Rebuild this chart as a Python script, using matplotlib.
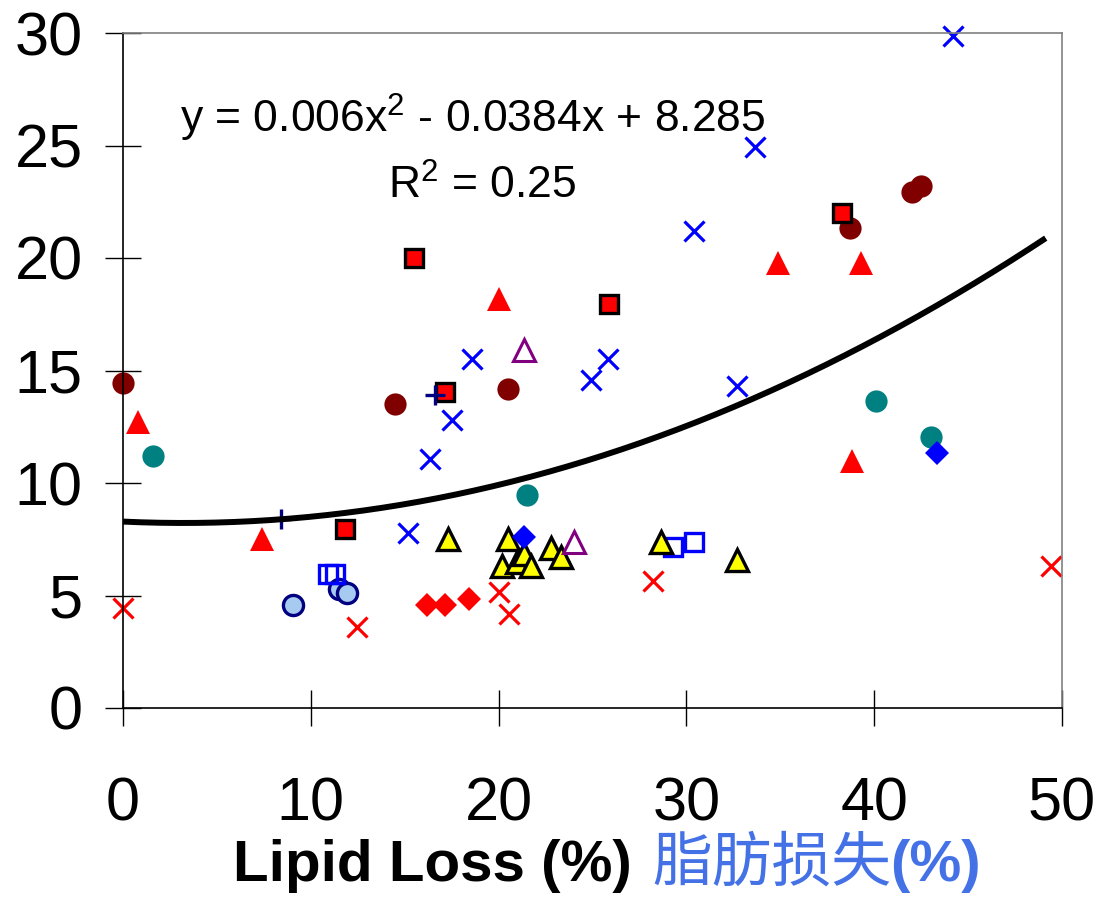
import numpy as np
import matplotlib
matplotlib.use('Agg')
import matplotlib.pyplot as plt

plt.rcParams['font.family'] = ['Liberation Sans', 'DejaVu Sans']
plt.rcParams['mathtext.default'] = 'regular'

# series: (lipid loss %, y value)
maroon_x = [0.0, 14.5, 20.5, 38.7, 42.0, 42.5]
maroon_y = [14.45, 13.5, 14.2, 21.35, 22.95, 23.2]

red_tri_x = [0.8, 7.4, 20.0, 34.9, 39.3, 38.8]
red_tri_y = [12.7, 7.5, 18.2, 19.8, 19.8, 11.0]

teal_x = [1.6, 21.5, 40.1, 43.0]
teal_y = [11.2, 9.45, 13.65, 12.05]

red_sq_x = [11.8, 15.5, 17.15, 25.9, 38.3]
red_sq_y = [7.95, 20.0, 14.05, 17.95, 22.0]

blue_x_x = [44.2, 33.65, 30.4, 18.6, 25.8, 24.9, 32.7, 17.5, 16.35, 15.2]
blue_x_y = [29.85, 24.95, 21.2, 15.5, 15.5, 14.6, 14.3, 12.8, 11.05, 7.8]

red_x_x = [0.0, 12.45, 20.0, 20.55, 28.2, 49.4]
red_x_y = [4.45, 3.6, 5.15, 4.2, 5.65, 6.3]

red_dia_x = [16.2, 17.15, 18.4]
red_dia_y = [4.6, 4.6, 4.85]

lb_circ_x = [9.05, 11.5, 11.95]
lb_circ_y = [4.6, 5.3, 5.1]

blue_sq_x = [10.9, 11.3, 29.3, 30.4]
blue_sq_y = [5.95, 5.95, 7.15, 7.4]

yel_tri_x = [17.3, 20.5, 20.2, 21.0, 21.35, 21.7, 22.8, 23.3, 28.65, 32.7]
yel_tri_y = [7.5, 7.5, 6.3, 6.5, 6.85, 6.3, 7.1, 6.7, 7.4, 6.6]

purple_x = [21.35, 24.0]
purple_y = [15.9, 7.4]

blue_dia_x = [21.35, 43.35]
blue_dia_y = [7.6, 11.35]

navy_plus_x = [8.4, 16.6]
navy_plus_y = [8.4, 13.9]

# trendline coefficients from the label
a2, a1, a0 = 0.006, -0.0384, 8.285

fig = plt.figure(figsize=(10.99, 9.01), dpi=100)
ax = fig.add_axes([123 / 1099, 193 / 901, 939 / 1099, 675 / 901])

kw = dict(linestyle='none', clip_on=False)
ax.plot(maroon_x, maroon_y, 'o', color='#800000', ms=16, mew=0, **kw)
ax.plot(red_tri_x, red_tri_y, '^', color='red', ms=17, mew=0, **kw)
ax.plot(teal_x, teal_y, 'o', color='#008080', ms=16, mew=0, **kw)
ax.plot(red_sq_x, red_sq_y, 's', mfc='red', mec='black', ms=13.5, mew=2.4, **kw)
ax.plot(blue_x_x, blue_x_y, 'x', color='blue', ms=14, mew=2.3, **kw)
ax.plot(red_x_x, red_x_y, 'x', color='red', ms=14, mew=2.3, **kw)
ax.plot(red_dia_x, red_dia_y, 'D', color='red', ms=12, mew=0, **kw)
ax.plot(lb_circ_x, lb_circ_y, 'o', mfc='#a6caf0', mec='#000080', ms=14.5, mew=2.4, **kw)
ax.plot(blue_sq_x, blue_sq_y, 's', mfc='none', mec='blue', ms=13.5, mew=2.4, **kw)
ax.plot(yel_tri_x, yel_tri_y, '^', mfc='yellow', mec='black', ms=16, mew=2.4, **kw)
ax.plot(purple_x, purple_y, '^', mfc='white', mec='#800080', ms=15.5, mew=2.2, **kw)
ax.plot(blue_dia_x, blue_dia_y, 'D', color='blue', ms=12, mew=0, **kw)
ax.plot(navy_plus_x, navy_plus_y, '+', color='#000080', ms=15, mew=2.4, **kw)

xs = np.linspace(0, 49, 200)
ax.plot(xs, a2 * xs**2 + a1 * xs + a0, color='black', lw=4.3, zorder=3)

ax.set_xlim(0, 50)
ax.set_ylim(0, 30)
ax.set_xticks([0, 10, 20, 30, 40, 50])
ax.set_yticks([0, 5, 10, 15, 20, 25, 30])
ax.tick_params(axis='both', direction='inout', length=26, width=1, labelsize=44)
ax.tick_params(axis='x', pad=36)
ax.tick_params(axis='y', pad=16)
for s in ['top', 'right']:
    ax.spines[s].set_color('#808080')
    ax.spines[s].set_linewidth(1.2)
for s in ['left', 'bottom']:
    ax.spines[s].set_linewidth(1.2)

ax.text(473 / 1099, 1 - 133 / 901, 'y = 0.006x$^2$ - 0.0384x + 8.285',
        transform=fig.transFigure, ha='center', va='baseline', fontsize=32)
ax.text(482 / 1099, 1 - 199 / 901, 'R$^2$ = 0.25',
        transform=fig.transFigure, ha='center', va='baseline', fontsize=32)

fig.text(632 / 1099, 1 - 881 / 901, 'Lipid Loss (%)', ha='right', va='baseline',
         fontsize=42, fontweight='bold')
fig.text(652 / 1099, 1 - 881 / 901, '脂肪损失', ha='left', va='baseline',
         fontsize=43, color='#4472e6', family=['Noto Sans CJK SC', 'DejaVu Sans'])
fig.text(890 / 1099, 1 - 881 / 901, '(%)', ha='left', va='baseline',
         fontsize=42, fontweight='bold', color='#4472e6')

fig.savefig('out.png', dpi=100)
